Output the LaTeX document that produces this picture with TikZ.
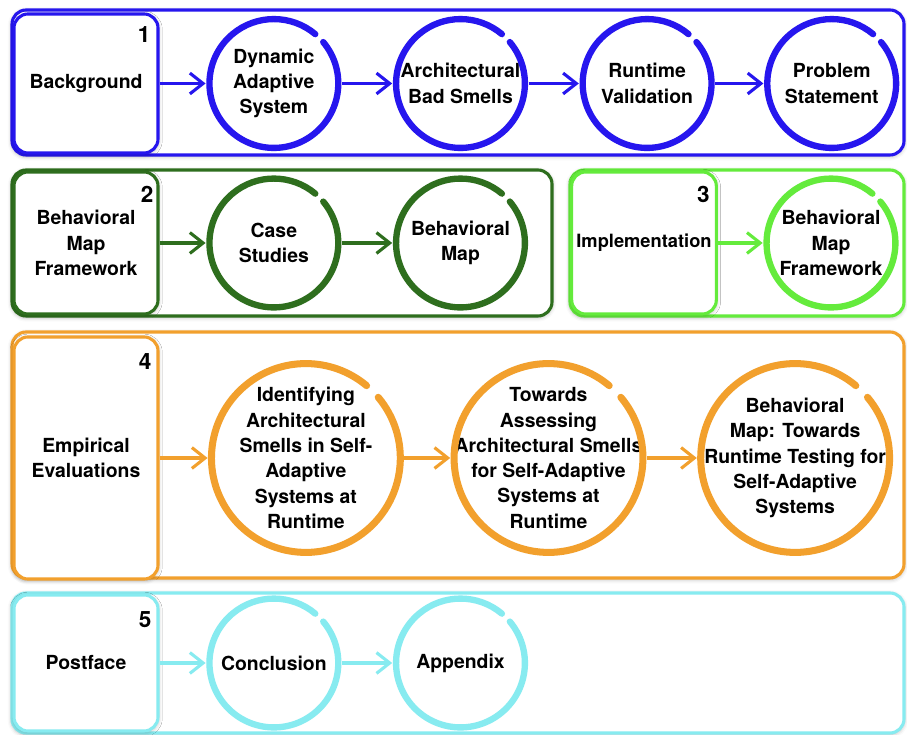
\documentclass[tikz,border=0pt]{standalone}
\usepackage{fontspec}
\setmainfont{TeX Gyre Heros}
\usepackage{xcolor}
\usetikzlibrary{positioning,arrows.meta,shadows.blur}

\definecolor{bgblue}{RGB}{38,22,238}
\definecolor{bmgreen}{RGB}{46,110,30}
\definecolor{implgreen}{RGB}{100,235,60}
\definecolor{evalorange}{RGB}{242,160,45}
\definecolor{postcyan}{RGB}{135,235,240}
\newcommand{\boxfont}{\bfseries\fontsize{13.8}{18}\selectfont}

\begin{document}
\begin{tikzpicture}[x=0.025cm, y=0.025cm,
    frame/.style={draw=#1, line width=2.2pt, rounded corners=10pt, fill=white,
        blur shadow={shadow xshift=0pt, shadow yshift=-1pt, shadow blur radius=3pt, shadow opacity=30}},
    part/.style={draw=#1, line width=2.2pt, rounded corners=10pt, fill=white,
        minimum width=3.6cm, align=center, font=\boxfont,
        blur shadow={shadow xshift=0pt, shadow yshift=-1pt, shadow blur radius=3pt, shadow opacity=30}},
    num/.style={inner sep=0pt, font=\bfseries\fontsize{16}{16}\selectfont},
    topic/.style={rectangle, minimum width=#1, minimum height=#1, inner sep=0pt, align=center, font=\boxfont},
    arr/.style={draw=#1, line width=2.2pt, -{Straight Barb[length=3.3mm, width=5.2mm]}}]
    \useasboundingbox (0,0) rectangle (907,735);

    % frames
    \draw[frame=bgblue] (12,580) rectangle (904,725);
    \draw[frame=bmgreen] (12,419) rectangle (552,565);
    \draw[frame=implgreen] (570,419) rectangle (904,565);
    \draw[frame=evalorange] (12,157) rectangle (904,403);
    \draw[frame=postcyan] (12,2) rectangle (904,142);

    % 1 background
    \node[part=bgblue, minimum height=3.475cm] (bg) at (86,651.5) {Background};
    \node[num, anchor=north east] (n1) at ([xshift=-0.22cm, yshift=-0.35cm]bg.north east) {1};
    \node[topic=3.4cm, right=1.15cm of bg] (dyn) {Dynamic\\Adaptive\\System};
    \node[topic=3.4cm, right=1.25cm of dyn] (abs) {Architectural\\Bad Smells};
    \node[topic=3.4cm, right=1.25cm of abs] (rtv) {Runtime\\Validation};
    \node[topic=3.4cm, right=1.2cm of rtv] (pst) {Problem\\Statement};
    \draw[arr=bgblue] (bg) -- (dyn);
    \draw[arr=bgblue] (dyn) -- (abs);
    \draw[arr=bgblue] (abs) -- (rtv);
    \draw[arr=bgblue] (rtv) -- (pst);

    % 2 behavioral map framework
    \node[part=bmgreen, minimum height=3.55cm] (bmfw) at (86,492) {Behavioral\\Map\\Framework};
    \node[num, anchor=north east] (n2) at ([xshift=-0.15cm, yshift=-0.4cm]bmfw.north east) {2};
    \node[topic=3.4cm, right=1.15cm of bmfw] (cs) {Case\\Studies};
    \node[topic=3.4cm, right=1.25cm of cs] (bmap) {Behavioral\\Map};
    \draw[arr=bmgreen] (bmfw) -- (cs);
    \draw[arr=bmgreen] (cs) -- (bmap);

    % 3 implementation
    \node[part=implgreen, minimum height=3.55cm, font=\bfseries\fontsize{13}{17}\selectfont] (impl) at (644,492) {Implementation};
    \node[num, anchor=north east] (n3) at ([xshift=-0.2cm, yshift=-0.38cm]impl.north east) {3};
    \node[topic=3.4cm, right=1.12cm of impl] (bmf) {Behavioral\\Map\\Framework};
    \draw[arr=implgreen] (impl) -- (bmf);

    % 4 empirical evaluations
    \node[part=evalorange, minimum height=6.05cm] (emp) at (86,277) {Empirical\\Evaluations};
    \node[num, anchor=north east] (n4) at ([xshift=-0.2cm, yshift=-0.45cm]emp.north east) {4};
    \node[topic=4.9cm, right=1.2cm of emp] (ident) {Identifying\\Architectural\\Smells in Self-\\Adaptive\\Systems at\\Runtime};
    \node[topic=4.9cm, right=1.15cm of ident] (assess) {Towards\\Assessing\\Architectural Smells\\for Self-Adaptive\\Systems at\\Runtime};
    \node[topic=4.9cm, right=1.25cm of assess] (bmtest) {Behavioral\\Map: Towards\\Runtime Testing for\\Self-Adaptive\\Systems};
    \draw[arr=evalorange] (emp) -- (ident);
    \draw[arr=evalorange] (ident) -- (assess);
    \draw[arr=evalorange] (assess) -- (bmtest);

    % 5 postface
    \node[part=postcyan, minimum height=3.4cm] (post) at (86,72) {Postface};
    \node[num, anchor=north east] (n5) at ([xshift=-0.2cm, yshift=-0.45cm]post.north east) {5};
    \node[topic=3.4cm, right=1.15cm of post] (con) {Conclusion};
    \node[topic=3.4cm, right=1.25cm of con] (app) {Appendix};
    \draw[arr=postcyan] (post) -- (con);
    \draw[arr=postcyan] (con) -- (app);

    % brush rings, open at the top right
    \foreach \c/\col in {dyn/bgblue, abs/bgblue, rtv/bgblue, pst/bgblue, cs/bmgreen, bmap/bmgreen, bmf/implgreen, con/postcyan, app/postcyan}
        \draw[line width=4.5pt, draw=\col, line cap=round] ([shift={(40:1.61cm)}]\c.center) arc[start angle=40, delta angle=-350, radius=1.61cm];
    \foreach \c in {ident, assess, bmtest}
        \draw[line width=5pt, draw=evalorange, line cap=round] ([shift={(40:2.36cm)}]\c.center) arc[start angle=40, delta angle=-350, radius=2.36cm];
\end{tikzpicture}
\end{document}
